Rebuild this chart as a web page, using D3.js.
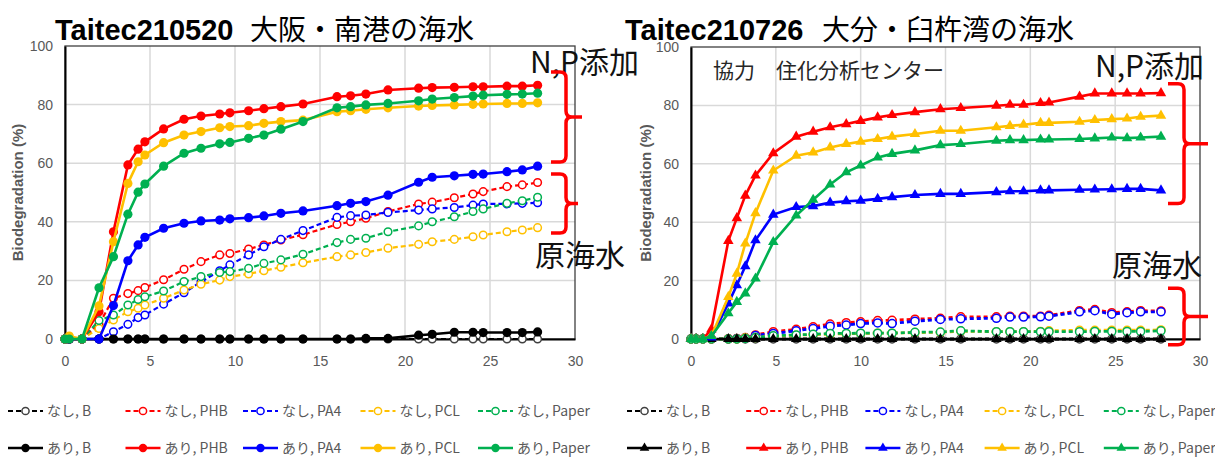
<!DOCTYPE html>
<html>
<head>
<meta charset="utf-8">
<script src="https://cdn.jsdelivr.net/npm/d3@7"></script>
<style>
  body { margin: 0; background: #fff; }
  svg { display: block; }
</style>
</head>
<body>
<svg id="chart" width="1215" height="459"></svg>
<script>
// ---- shared labels / ticks ----
const materials = ["B", "PHB", "PA4", "PCL", "Paper"];
const materialColors = ["#000000", "#FF0000", "#0000FF", "#FFC000", "#00B050"];
const groupLabels = ["なし", "あり"];           // なし = raw seawater, あり = N,P added
const xTickValues = [0, 5, 10, 15, 20, 25, 30];
const yTickValues = [0, 20, 40, 60, 80, 100];

// ---- Osaka (Taitec210520) ----
const osakaDays = [0, 0.25, 1, 2, 2.85, 3.7, 4.3, 4.7, 5.8, 7, 8, 9.1, 9.7, 10.8, 11.7, 12.7, 14, 16, 16.8, 17.7, 19, 20.8, 21.6, 22.9, 24, 24.6, 26, 26.9, 27.8];
const osakaRawB     = [0, 0, 0, 0, 0, 0, 0, 0, 0, 0, 0, 0, 0, 0, 0, 0, 0, 0, 0, 0, 0, 0, 0, 0, 0, 0, 0, 0, 0];
const osakaRawPHB   = [0, 0, 0, 5, 13.9, 15.5, 16.5, 17.6, 20.2, 23.8, 26.4, 28.7, 29.2, 30.7, 32.1, 33.8, 35.6, 39.1, 40.0, 41.2, 43.5, 46.1, 46.7, 48.2, 49.5, 50.3, 52.0, 52.6, 53.4];
const osakaRawPA4   = [0, 0, 0, 0, 2.5, 5.0, 7.3, 8.2, 11.9, 15.8, 19.5, 23.3, 25.3, 28.7, 31.5, 34.0, 37.0, 41.5, 42.1, 42.3, 43.2, 44.0, 44.4, 44.9, 45.7, 46.1, 46.1, 46.3, 46.5];
const osakaRawPCL   = [0, 0, 0, 3.6, 6.5, 9.3, 10.5, 11.6, 13.9, 16.7, 18.7, 20.1, 21.3, 22.2, 23.3, 24.5, 26.0, 28.1, 28.7, 29.5, 31.0, 32.3, 33.2, 34.0, 34.9, 35.5, 36.6, 37.2, 38.0];
const osakaRawPaper = [0, 0, 0, 6.3, 8.2, 11.6, 13.5, 14.4, 16.4, 19.6, 21.3, 22.7, 23.0, 24.1, 25.8, 27.0, 28.9, 32.9, 34.0, 34.4, 36.6, 38.6, 40.0, 41.7, 43.5, 44.4, 46.3, 47.2, 48.4];
const osakaNpB      = [0, 0, 0, 0, 0, 0, 0, 0, 0, 0, 0, 0, 0, 0, 0, 0, 0, 0, 0, 0.2, 0.2, 1.3, 1.6, 2.3, 2.3, 2.2, 2.2, 2.2, 2.4];
const osakaNpPHB    = [0, 0, 0, 9.3, 36.6, 59.4, 64.8, 67.3, 71.7, 75.0, 76.1, 76.8, 77.2, 77.9, 78.6, 79.3, 80.2, 82.7, 83.0, 83.6, 85.0, 85.6, 85.8, 85.9, 86.1, 86.1, 86.3, 86.3, 86.6];
const osakaNpPA4    = [0, 0, 0, 0, 11.4, 26.7, 32.1, 34.7, 37.8, 39.5, 40.3, 40.6, 41.0, 41.4, 42.0, 42.9, 43.7, 45.5, 46.3, 46.9, 49.1, 53.5, 55.2, 55.7, 56.2, 56.3, 57.1, 57.7, 59.0];
const osakaNpPCL    = [0, 1, 0, 11.3, 33.2, 53.1, 60.5, 62.8, 67.0, 69.6, 70.8, 72.1, 72.5, 72.8, 73.6, 74.2, 74.7, 77.6, 77.9, 78.4, 78.9, 79.5, 79.7, 79.9, 80.1, 80.2, 80.4, 80.4, 80.6];
const osakaNpPaper  = [0, 0, 0, 17.5, 28.1, 42.6, 50.1, 52.9, 59.0, 63.4, 65.1, 66.6, 67.1, 68.5, 69.6, 71.6, 74.2, 78.9, 79.3, 79.9, 80.4, 81.3, 81.9, 82.4, 82.9, 83.2, 83.5, 83.6, 83.9];

// ---- Oita (Taitec210726) ----
const oitaDays = [0, 0.3, 0.7, 1.2, 2.2, 2.7, 3.2, 3.8, 4.85, 6.2, 7.2, 8.2, 9.15, 10, 11, 11.85, 13.2, 14.7, 15.9, 18.0, 18.8, 19.6, 20.6, 21.1, 22.9, 23.8, 24.8, 25.7, 26.5, 27.7];
const oitaRawB     = [0, 0, 0, 0, 0, 0, 0, 0, 0, 0, 0, 0, 0, 0, 0, 0, 0, 0, 0, 0, 0, 0, 0, 0, 0, 0, 0, 0, 0, 0];
const oitaRawPHB   = [0, 0, 0, 0, 0.1, 0.2, 0.5, 1.4, 2.5, 3.3, 4.2, 5.1, 5.6, 5.9, 6.3, 6.4, 6.8, 7.1, 7.6, 7.6, 7.8, 7.8, 7.8, 8.1, 9.7, 10.1, 9.0, 9.3, 9.7, 9.6];
const oitaRawPA4   = [0, 0, 0, 0, 0, 0.1, 0.4, 1.2, 1.9, 2.8, 3.6, 4.4, 4.8, 5.3, 5.5, 5.3, 6.1, 6.7, 6.9, 7.1, 7.5, 7.5, 7.6, 7.8, 9.3, 9.7, 8.5, 9.0, 9.3, 9.3];
const oitaRawPCL   = [0, 0, 0, 0, 0, 0, 0.4, 0.5, 1.0, 1.3, 1.5, 1.7, 1.8, 1.9, 2.0, 2.0, 2.2, 2.3, 2.7, 2.5, 2.5, 2.5, 2.6, 2.8, 3.0, 3.0, 3.0, 3.0, 3.0, 3.1];
const oitaRawPaper = [0, 0, 0, 0, 0, 0, 0.2, 0.5, 1.1, 1.4, 1.6, 1.9, 1.9, 2.0, 2.0, 2.0, 2.3, 2.4, 2.8, 2.5, 2.5, 2.5, 2.5, 2.5, 2.5, 2.6, 2.6, 2.6, 2.6, 2.8];
const oitaNpB      = [0, 0, 0, 0, 0, 0, 0, 0, 0, 0, 0, 0, 0, 0, 0, 0, 0, 0, 0, 0, 0, 0, 0, 0, 0, 0, 0, 0, 0, 0];
const oitaNpPHB    = [0, 0, 0, 3.3, 33.6, 41.4, 49.1, 56.0, 63.6, 69.3, 71.0, 72.5, 73.6, 74.7, 75.9, 76.7, 77.7, 78.7, 79.1, 79.9, 80.2, 80.2, 80.8, 81.0, 83.0, 84.1, 84.1, 84.1, 84.1, 84.2];
const oitaNpPA4    = [0, 0, 0, 0.5, 12.2, 18.4, 24.9, 33.8, 42.6, 45.2, 45.5, 46.7, 47.2, 47.4, 48.0, 48.6, 49.3, 49.7, 49.7, 50.3, 50.6, 50.6, 50.9, 50.9, 51.1, 51.2, 51.3, 51.4, 51.4, 50.9];
const oitaNpPCL    = [0, 0, 0, 1, 14.4, 22.4, 32.7, 43.1, 57.7, 62.8, 63.9, 65.6, 66.8, 67.6, 68.5, 69.3, 70.2, 71.3, 71.3, 72.5, 73.0, 73.4, 74.0, 74.0, 74.4, 75.0, 75.3, 75.5, 76.1, 76.5];
const oitaNpPaper  = [0, 0, 0, 1, 8.8, 12.7, 15.6, 20.7, 33.2, 42.3, 47.7, 52.9, 57.1, 59.4, 62.2, 63.4, 64.6, 66.4, 66.8, 67.9, 68.1, 68.1, 68.3, 68.3, 68.5, 68.7, 69.0, 68.8, 69.0, 69.3];

const svg = d3.select("#chart");
svg.append("rect").attr("width", 1215).attr("height", 459).attr("fill", "#fff");

const latinFont = "'Liberation Sans', Arial, sans-serif";
const cjkFont = "'Noto Sans CJK JP', 'Noto Sans', sans-serif";

// Red curly-style bracket grouping a set of curves
function bracket(g, xEnd, xSpine, xTip, yTop, yBottom) {
  const yMid = (yTop + yBottom) / 2;
  const r = 6;
  const d = `M${xEnd},${yTop} L${xSpine - r},${yTop} Q${xSpine},${yTop} ${xSpine},${yTop + r}
             L${xSpine},${yMid - r} Q${xSpine},${yMid} ${xSpine + r},${yMid} L${xTip},${yMid}
             M${xSpine + r},${yMid} Q${xSpine},${yMid} ${xSpine},${yMid + r}
             L${xSpine},${yBottom - r} Q${xSpine},${yBottom} ${xSpine - r},${yBottom} L${xEnd},${yBottom}`;
  g.append("path").attr("d", d).attr("fill", "none")
    .attr("stroke", "#FF0000").attr("stroke-width", 3.5).attr("stroke-linecap", "butt");
}

function drawPanel(p) {
  const g = svg.append("g");
  const x = d3.scaleLinear().domain([0, 30]).range([p.x0, p.x1]);
  const y = d3.scaleLinear().domain([0, 100]).range([p.y0, p.y1]);

  // gridlines
  g.append("g").selectAll("line")
    .data(yTickValues.filter(v => v > 0 && v < 100)).join("line")
    .attr("x1", p.x0).attr("x2", p.x1).attr("y1", d => y(d)).attr("y2", d => y(d))
    .attr("stroke", "#D9D9D9").attr("stroke-width", 1.5);
  g.append("g").selectAll("line")
    .data(xTickValues.filter(v => v > 0 && v < 30)).join("line")
    .attr("y1", p.y0).attr("y2", p.y1).attr("x1", d => x(d)).attr("x2", d => x(d))
    .attr("stroke", "#D9D9D9").attr("stroke-width", 1.5);

  // plot frame
  g.append("rect").attr("x", p.x0).attr("y", p.y1)
    .attr("width", p.x1 - p.x0).attr("height", p.y0 - p.y1)
    .attr("fill", "none").attr("stroke", "#404040").attr("stroke-width", 1.3);

  // axes
  const ya = g.append("g").attr("transform", `translate(${p.x0},0)`)
    .call(d3.axisLeft(y).tickValues(yTickValues).tickSize(0).tickPadding(12));
  const xa = g.append("g").attr("transform", `translate(0,${p.y0})`)
    .call(d3.axisBottom(x).tickValues(xTickValues).tickSize(0).tickPadding(17));
  [ya, xa].forEach(a => {
    a.select(".domain").attr("stroke", "#000").attr("stroke-width", 2);
    a.selectAll("text").attr("font-family", latinFont).attr("font-size", 14).attr("fill", "#595959");
  });

  // y axis title
  g.append("text")
    .attr("transform", `translate(${p.titleX},${(p.y0 + p.y1) / 2}) rotate(-90)`)
    .attr("text-anchor", "middle").attr("dy", "0.35em")
    .attr("font-family", latinFont).attr("font-size", 15).attr("font-weight", "bold")
    .attr("fill", "#595959").text("Biodegradation (%)");

  // series: raw seawater (dashed, open circles) first, then N,P added (solid, filled)
  const line = d3.line().x(d => x(d[0])).y(d => y(d[1]));
  const series = [];
  p.raw.forEach((vals, i) => series.push({ group: 0, color: materialColors[i], values: vals }));
  p.np.forEach((vals, i) => series.push({ group: 1, color: materialColors[i], values: vals }));

  series.forEach(s => {
    const pts = p.days.map((d, i) => [d, s.values[i]]);
    const sg = g.append("g");
    sg.append("path").datum(pts).attr("d", line).attr("fill", "none")
      .attr("stroke", s.color)
      .attr("stroke-width", s.group === 0 ? p.dashWidth : 2.6)
      .attr("stroke-dasharray", s.group === 0 ? p.dash : null);
    if (s.group === 0) {
      sg.selectAll("circle").data(pts).join("circle")
        .attr("cx", d => x(d[0])).attr("cy", d => y(d[1])).attr("r", p.openR)
        .attr("fill", "#fff")
        .attr("stroke", s.color === "#000000" ? "#404040" : s.color)
        .attr("stroke-width", 1.5);
    } else if (p.marker === "circle") {
      sg.selectAll("circle").data(pts).join("circle")
        .attr("cx", d => x(d[0])).attr("cy", d => y(d[1])).attr("r", 4.6)
        .attr("fill", s.color);
    } else {
      sg.selectAll("path.m").data(pts).join("path").attr("class", "m")
        .attr("transform", d => `translate(${x(d[0])},${y(d[1])})`)
        .attr("d", d3.symbol(d3.symbolTriangle, 48))
        .attr("fill", s.color);
    }
  });

  // chart title
  g.append("text").attr("x", p.titleLatinX).attr("y", 40)
    .attr("font-family", latinFont).attr("font-weight", "bold").attr("font-size", 29)
    .attr("fill", "#000").text(p.titleLatin);
  g.append("text").attr("x", p.titleCjkX).attr("y", 40)
    .attr("font-family", cjkFont).attr("font-size", 28)
    .attr("fill", "#000").text(p.titleCjk);

  // group annotations
  g.append("text").attr("x", p.npLabel[0]).attr("y", p.npLabel[1])
    .attr("font-family", cjkFont).attr("font-size", 30).attr("fill", "#111").text("N,P添加");
  g.append("text").attr("x", p.rawLabel[0]).attr("y", p.rawLabel[1])
    .attr("font-family", cjkFont).attr("font-size", 30).attr("fill", "#111").text("原海水");
  p.brackets.forEach(b => bracket(g, b[0], b[1], b[2], y(b[3]), y(b[4])));

  // legend
  groupLabels.forEach((gl, gi) => {
    materials.forEach((m, mi) => {
      const lx = p.legX + mi * p.legStep;
      const ly = p.legY[gi];
      const col = materialColors[mi];
      const lg = g.append("g");
      lg.append("line").attr("x1", lx).attr("x2", lx + 35).attr("y1", ly).attr("y2", ly)
        .attr("stroke", col).attr("stroke-width", gi === 0 ? 2 : 2.6)
        .attr("stroke-dasharray", gi === 0 ? "5,3" : null);
      if (gi === 0) {
        lg.append("circle").attr("cx", lx + 17.5).attr("cy", ly).attr("r", 3.6)
          .attr("fill", "#fff").attr("stroke", col === "#000000" ? "#404040" : col).attr("stroke-width", 1.5);
      } else if (p.marker === "circle") {
        lg.append("circle").attr("cx", lx + 17.5).attr("cy", ly).attr("r", 4.2).attr("fill", col);
      } else {
        lg.append("path").attr("transform", `translate(${lx + 17.5},${ly})`)
          .attr("d", d3.symbol(d3.symbolTriangle, 40)).attr("fill", col);
      }
      lg.append("text").attr("x", lx + 39).attr("y", ly).attr("dy", "0.35em")
        .attr("font-family", cjkFont).attr("font-size", 14).attr("fill", "#595959")
        .text(`${gl}, ${m}`);
    });
  });

  if (p.credit) {
    g.append("text").attr("x", p.credit[0]).attr("y", p.credit[1])
      .attr("font-family", cjkFont).attr("font-size", 21).attr("fill", "#262626")
      .text(p.credit[2]);
  }
}

drawPanel({
  x0: 65, x1: 575, y0: 339, y1: 46, titleX: 18,
  days: osakaDays,
  raw: [osakaRawB, osakaRawPHB, osakaRawPA4, osakaRawPCL, osakaRawPaper],
  np: [osakaNpB, osakaNpPHB, osakaNpPA4, osakaNpPCL, osakaNpPaper],
  marker: "circle", dash: "5,3", dashWidth: 2.2, openR: 3.8,
  titleLatin: "Taitec210520", titleLatinX: 55, titleCjk: "大阪・南港の海水", titleCjkX: 250,
  npLabel: [530, 73], rawLabel: [535, 266],
  brackets: [[551, 566, 582, 91.1, 60.4], [551, 566, 578, 56.3, 36.2]],
  legX: 8, legStep: 117.5, legY: [411, 448]
});

drawPanel({
  x0: 691, x1: 1200, y0: 339, y1: 47, titleX: 646,
  days: oitaDays,
  raw: [oitaRawB, oitaRawPHB, oitaRawPA4, oitaRawPCL, oitaRawPaper],
  np: [oitaNpB, oitaNpPHB, oitaNpPA4, oitaNpPCL, oitaNpPaper],
  marker: "triangle", dash: "4,3", dashWidth: 2.8, openR: 4,
  titleLatin: "Taitec210726", titleLatinX: 625, titleCjk: "大分・臼杵湾の海水", titleCjkX: 822,
  npLabel: [1095, 77], rawLabel: [1112, 276],
  brackets: [[1168, 1184, 1208, 87.4, 46.4], [1168, 1184, 1208, 17.4, -2.0]],
  legX: 627, legStep: 119.2, legY: [411, 448],
  credit: [713, 78, "協力　住化分析センター"]
});
</script>
</body>
</html>
